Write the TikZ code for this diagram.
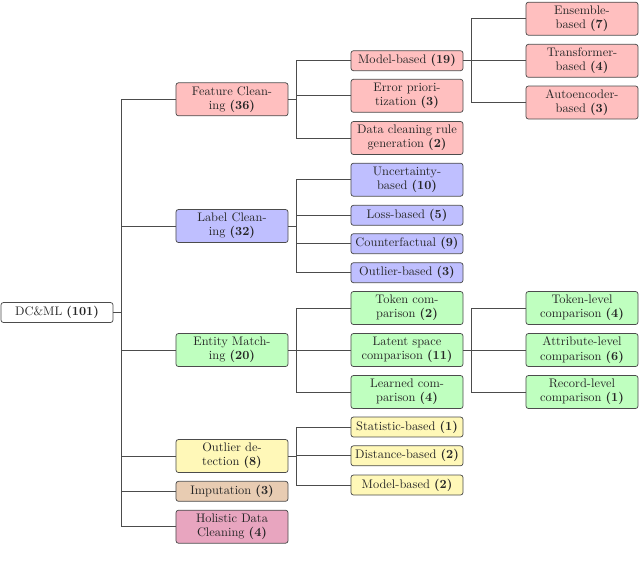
\documentclass[tikz,border=0pt]{standalone}
\usepackage{tikz}
\definecolor{cfeat}{HTML}{FFBFBF}
\definecolor{clab}{HTML}{BFBFFF}
\definecolor{cent}{HTML}{BFFFBF}
\definecolor{cout}{HTML}{FFF8B8}
\definecolor{cimp}{HTML}{E8CCB2}
\definecolor{chol}{HTML}{E8A5BF}
\tikzset{
  tbox/.style={draw=black!70, line width=0.6pt, rounded corners=2pt,
    text width=87.3pt, inner xsep=1.5pt, inner ysep=1pt, align=center,
    font=\fontsize{10}{11.5}\selectfont, text=black!85},
  one/.style={tbox, minimum height=16.1pt},
  two/.style={tbox, minimum height=26.6pt},
  conn/.style={draw=black!70, line width=0.55pt},
}
\begin{document}
\begin{tikzpicture}[x=0.806pt, y=-0.806pt]
\useasboundingbox (0,0) rectangle (640,568);
% root
\node[one, fill=white] (root) at (57,312.5) {DC\&ML \textbf{(101)}};
% level 1
\node[two, fill=cfeat] (fc) at (232,99.3) {Feature Clean-\\ing \textbf{(36)}};
\node[two, fill=clab] (lc) at (232,226) {Label Clean-\\ing \textbf{(32)}};
\node[two, fill=cent] (em) at (232,350) {Entity Match-\\ing \textbf{(20)}};
\node[two, fill=cout] (od) at (232,456) {Outlier de-\\tection \textbf{(8)}};
\node[one, fill=cimp] (im) at (232,491.3) {Imputation \textbf{(3)}};
\node[two, fill=chol] (hd) at (232,526.7) {Holistic Data\\Cleaning \textbf{(4)}};
% level 2
\node[one, fill=cfeat] (mb) at (407,60.7) {Model-based \textbf{(19)}};
\node[two, fill=cfeat] (ep) at (407,95.8) {Error priori-\\tization \textbf{(3)}};
\node[two, fill=cfeat] (dr) at (407,138) {Data cleaning rule\\generation \textbf{(2)}};
\node[two, fill=clab] (ub) at (407,179.7) {Uncertainty-\\based \textbf{(10)}};
\node[one, fill=clab] (lb) at (407,215.3) {Loss-based \textbf{(5)}};
\node[one, fill=clab] (cf) at (407,243.7) {Counterfactual~\textbf{(9)}};
\node[one, fill=clab] (ob) at (407,272.7) {Outlier-based \textbf{(3)}};
\node[two, fill=cent] (tc) at (407,308) {Token com-\\parison \textbf{(2)}};
\node[two, fill=cent] (ls) at (407,350) {Latent space\\comparison \textbf{(11)}};
\node[two, fill=cent] (lr) at (407,392) {Learned com-\\parison \textbf{(4)}};
\node[one, fill=cout] (sb) at (407,427) {Statistic-based~\textbf{(1)}};
\node[one, fill=cout] (db) at (407,455.8) {Distance-based~\textbf{(2)}};
\node[one, fill=cout] (mo) at (407,485) {Model-based \textbf{(2)}};
% level 3
\node[two, fill=cfeat] (eb) at (582,18.7) {Ensemble-\\based \textbf{(7)}};
\node[two, fill=cfeat] (tb) at (582,60.8) {Transformer-\\based \textbf{(4)}};
\node[two, fill=cfeat] (ab) at (582,102.5) {Autoencoder-\\based \textbf{(3)}};
\node[two, fill=cent] (tl) at (582,308) {Token-level\\comparison \textbf{(4)}};
\node[two, fill=cent] (al) at (582,350) {Attribute-level\\comparison \textbf{(6)}};
\node[two, fill=cent] (rl) at (582,392) {Record-level\\comparison \textbf{(1)}};
% bus coordinates
\coordinate (b0) at (121,0);
\coordinate (b1) at (296,0);
\coordinate (b2) at (471,0);
% root connectors
\draw[conn] (root.east) -- (root.east -| b0);
\draw[conn] (fc.west -| b0) -- (hd.west -| b0);
\foreach \n in {fc,lc,em,od,im,hd} \draw[conn] (\n.west -| b0) -- (\n.west);
% feature cleaning
\draw[conn] (fc.east) -- (fc.east -| b1);
\draw[conn] (mb.west -| b1) -- (dr.west -| b1);
\foreach \n in {mb,ep,dr} \draw[conn] (\n.west -| b1) -- (\n.west);
% label cleaning
\draw[conn] (lc.east) -- (lc.east -| b1);
\draw[conn] (ub.west -| b1) -- (ob.west -| b1);
\foreach \n in {ub,lb,cf,ob} \draw[conn] (\n.west -| b1) -- (\n.west);
% entity matching
\draw[conn] (em.east) -- (em.east -| b1);
\draw[conn] (tc.west -| b1) -- (lr.west -| b1);
\foreach \n in {tc,ls,lr} \draw[conn] (\n.west -| b1) -- (\n.west);
% outlier detection
\draw[conn] (od.east) -- (od.east -| b1);
\draw[conn] (sb.west -| b1) -- (mo.west -| b1);
\foreach \n in {sb,db,mo} \draw[conn] (\n.west -| b1) -- (\n.west);
% model-based
\draw[conn] (mb.east) -- (mb.east -| b2);
\draw[conn] (eb.west -| b2) -- (ab.west -| b2);
\foreach \n in {eb,tb,ab} \draw[conn] (\n.west -| b2) -- (\n.west);
% latent space
\draw[conn] (ls.east) -- (ls.east -| b2);
\draw[conn] (tl.west -| b2) -- (rl.west -| b2);
\foreach \n in {tl,al,rl} \draw[conn] (\n.west -| b2) -- (\n.west);
\end{tikzpicture}
\end{document}
